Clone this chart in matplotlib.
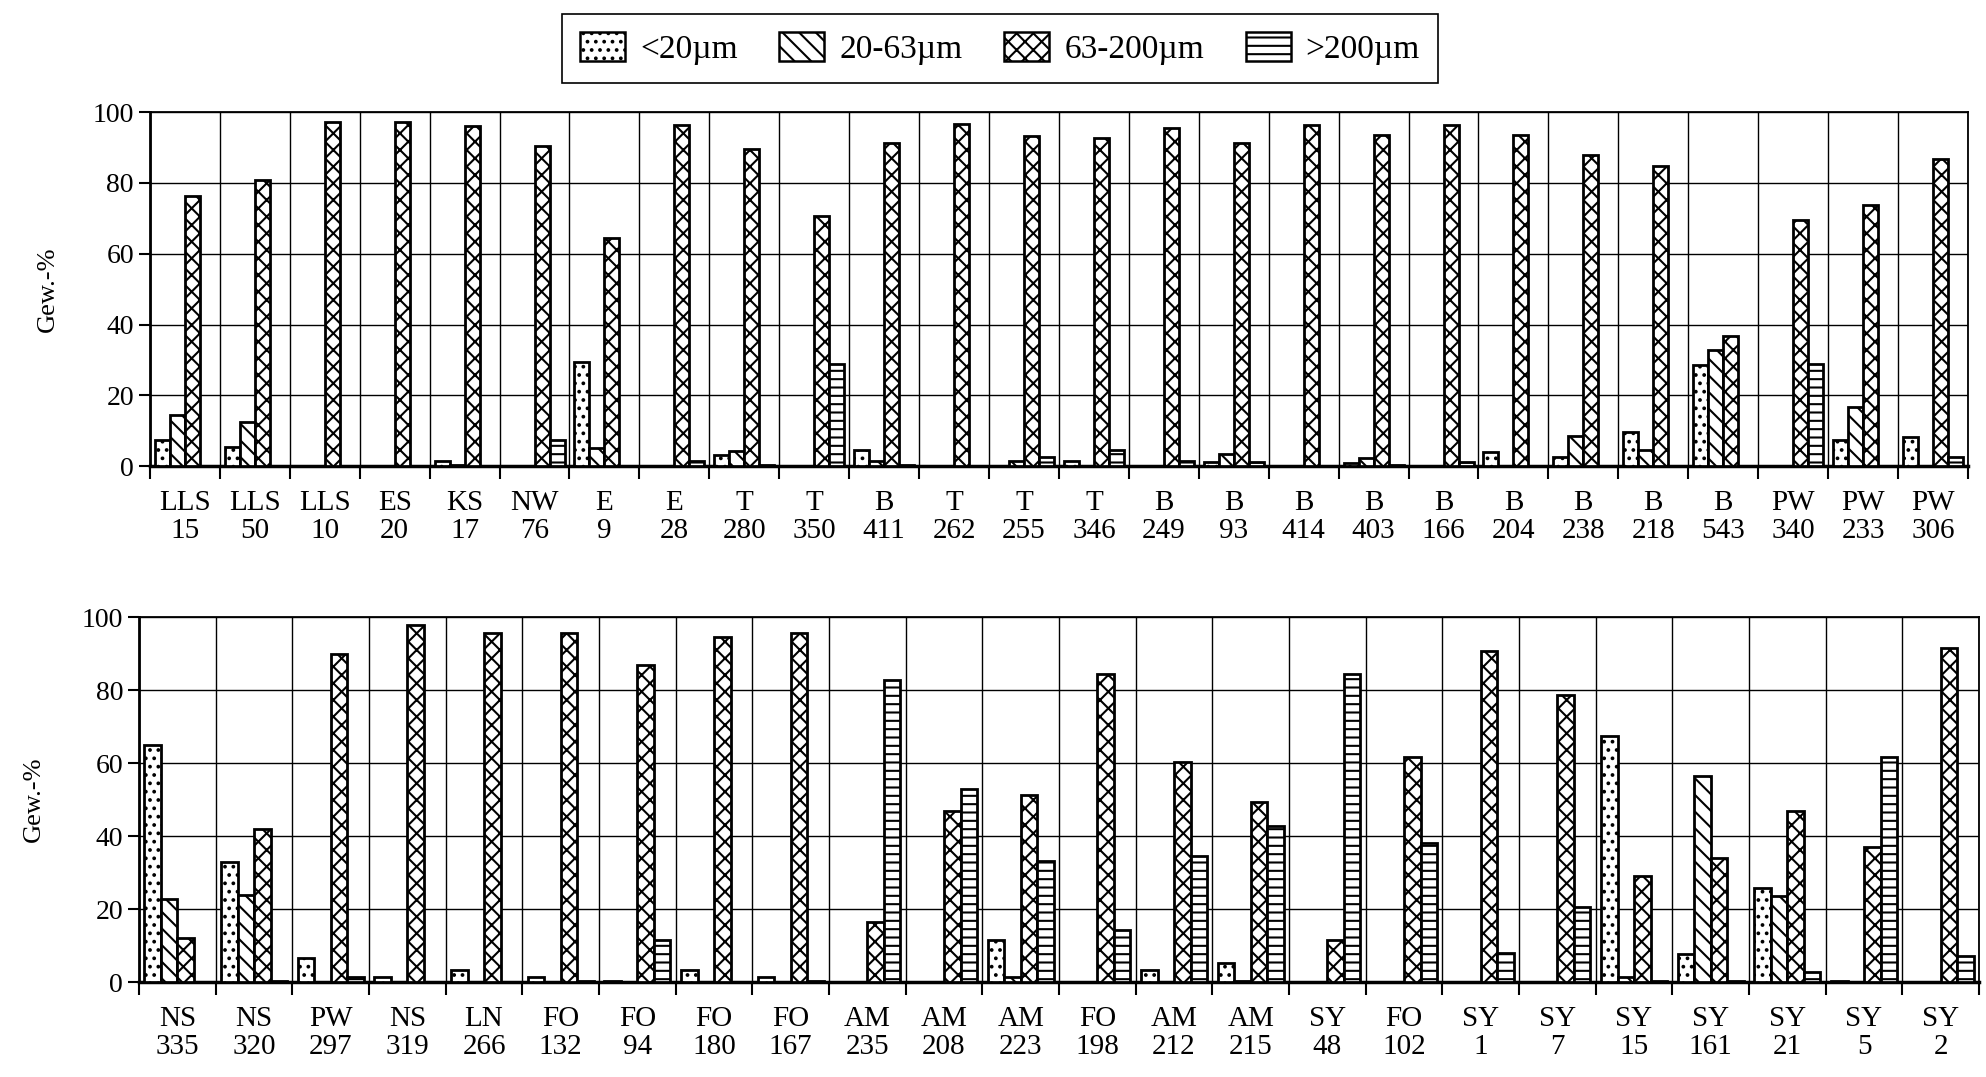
import numpy as np
import matplotlib
matplotlib.use("Agg")
import matplotlib.pyplot as plt
from matplotlib.patches import Patch

plt.rcParams["font.family"] = ["Liberation Serif", "DejaVu Serif"]
plt.rcParams["hatch.linewidth"] = 1.5

# --- Daten -----------------------------------------------------------------
series_names = ["<20µm", "20-63µm", "63-200µm", ">200µm"]
hatches = ["..", "\\\\", "xx", "--"]

oben_labels = ["LLS\n15", "LLS\n50", "LLS\n10", "ES\n20", "KS\n17", "NW\n76",
               "E\n9", "E\n28", "T\n280", "T\n350", "B\n411", "T\n262",
               "T\n255", "T\n346", "B\n249", "B\n93", "B\n414", "B\n403",
               "B\n166", "B\n204", "B\n238", "B\n218", "B\n543", "PW\n340",
               "PW\n233", "PW\n306"]
oben_fein = [7.5, 5.4, 0, 0, 1.5, 0, 29.5, 0, 3.2, 0, 4.5, 0, 0,
             1.6, 0, 1.1, 0, 0.9, 0, 4.1, 2.5, 9.7, 28.6, 0, 7.4, 8.2]
oben_schluff = [14.6, 12.4, 0, 0, 0.3, 0, 5.2, 0, 4.4, 0, 1.5, 0, 1.5,
                0, 0, 3.5, 0, 2.3, 0, 0, 8.7, 4.5, 32.8, 0, 16.7, 0]
oben_sand = [76.3, 80.7, 97.3, 97.3, 96.0, 90.4, 64.4, 96.4, 89.6, 70.6,
             91.3, 96.7, 93.2, 92.6, 95.5, 91.3, 96.2, 93.6, 96.4, 93.4,
             87.9, 84.8, 36.9, 69.5, 73.8, 86.7]
oben_grob = [0, 0, 0, 0, 0, 7.5, 0, 1.6, 0.4, 28.8, 0.3, 0, 2.5,
             4.7, 1.4, 1.2, 0, 0.3, 1.2, 0, 0, 0, 0, 28.8, 0, 2.6]

unten_labels = ["NS\n335", "NS\n320", "PW\n297", "NS\n319", "LN\n266",
                "FO\n132", "FO\n94", "FO\n180", "FO\n167", "AM\n235",
                "AM\n208", "AM\n223", "FO\n198", "AM\n212", "AM\n215",
                "SY\n48", "FO\n102", "SY\n1", "SY\n7", "SY\n15", "SY\n161",
                "SY\n21", "SY\n5", "SY\n2"]
unten_fein = [65.0, 32.9, 6.6, 1.3, 3.3, 1.5, 0.4, 3.3, 1.4, 0, 0, 11.7,
              0, 3.4, 5.4, 0, 0, 0, 0, 67.5, 7.7, 25.7, 0.3, 0]
unten_schluff = [22.9, 23.8, 0, 0, 0, 0, 0, 0, 0, 0, 0, 1.4,
                 0, 0, 0.4, 0, 0, 0, 0, 1.5, 56.6, 23.5, 0, 0]
unten_sand = [12.2, 42.1, 89.9, 97.8, 95.7, 95.6, 86.8, 94.6, 95.7, 16.4,
              47.0, 51.2, 84.4, 60.3, 49.4, 11.6, 61.7, 90.8, 78.6, 29.0,
              33.9, 46.9, 37.0, 91.6]
unten_grob = [0, 0.3, 1.5, 0, 0, 0.3, 11.6, 0, 0.3, 82.8, 52.8, 33.2,
              14.3, 34.6, 42.8, 84.5, 38.1, 8.0, 20.6, 0.3, 0.3, 2.8, 61.8, 7.3]


def zeichne_panel(ax, labels, reihen, label_x):
    n = len(labels)
    x = np.arange(n) + 0.5
    w = 0.215
    for i, (werte, hatch) in enumerate(zip(reihen, hatches)):
        ax.bar(x + (i - 1.5) * w, werte, w, facecolor="white",
               edgecolor="black", hatch=hatch, linewidth=2.0, zorder=3)
    ax.set_xlim(0, n)
    ax.set_ylim(0, 100)
    ax.set_xticks(x)
    ax.set_xticklabels(labels, fontsize=21, linespacing=1.1)
    ax.set_xticks(np.arange(n + 1), minor=True)
    ax.tick_params(axis="x", which="major", length=0, pad=17)
    ax.tick_params(axis="x", which="minor", length=9, width=1.5,
                   direction="out")
    ax.set_yticks(range(0, 101, 20))
    ax.tick_params(axis="y", labelsize=20, length=8, width=1.5)
    ax.grid(True, which="minor", axis="x", color="black", lw=1.0, zorder=0)
    ax.grid(True, which="major", axis="y", color="black", lw=1.0, zorder=0)
    for s in ax.spines.values():
        s.set_linewidth(1.3)
    ax.spines["bottom"].set_linewidth(2.5)
    ax.spines["left"].set_linewidth(2.0)
    ax.set_ylabel("Gew.-%", fontsize=19)
    ax.yaxis.set_label_coords(label_x, 0.5)


fig = plt.figure(figsize=(19.86, 10.77), dpi=100)
ax1 = fig.add_axes([0.0755, 0.567, 0.9154, 0.329])
ax2 = fig.add_axes([0.070, 0.088, 0.9265, 0.339])

zeichne_panel(ax1, oben_labels,
              [oben_fein, oben_schluff, oben_sand, oben_grob], -0.050)
zeichne_panel(ax2, unten_labels,
              [unten_fein, unten_schluff, unten_sand, unten_grob], -0.051)

handles = [Patch(facecolor="white", edgecolor="black", hatch=h, lw=1.8)
           for h in hatches]
leg = fig.legend(handles, series_names, loc="center",
                 bbox_to_anchor=(0.5035, 0.955), ncol=4, fontsize=24,
                 handlelength=1.35, handleheight=0.95, handletextpad=0.45,
                 columnspacing=1.25, borderpad=0.55, fancybox=False,
                 framealpha=1)
leg.get_frame().set_edgecolor("black")
leg.get_frame().set_linewidth(1.2)

fig.savefig("out.png", dpi=100, facecolor="white")
